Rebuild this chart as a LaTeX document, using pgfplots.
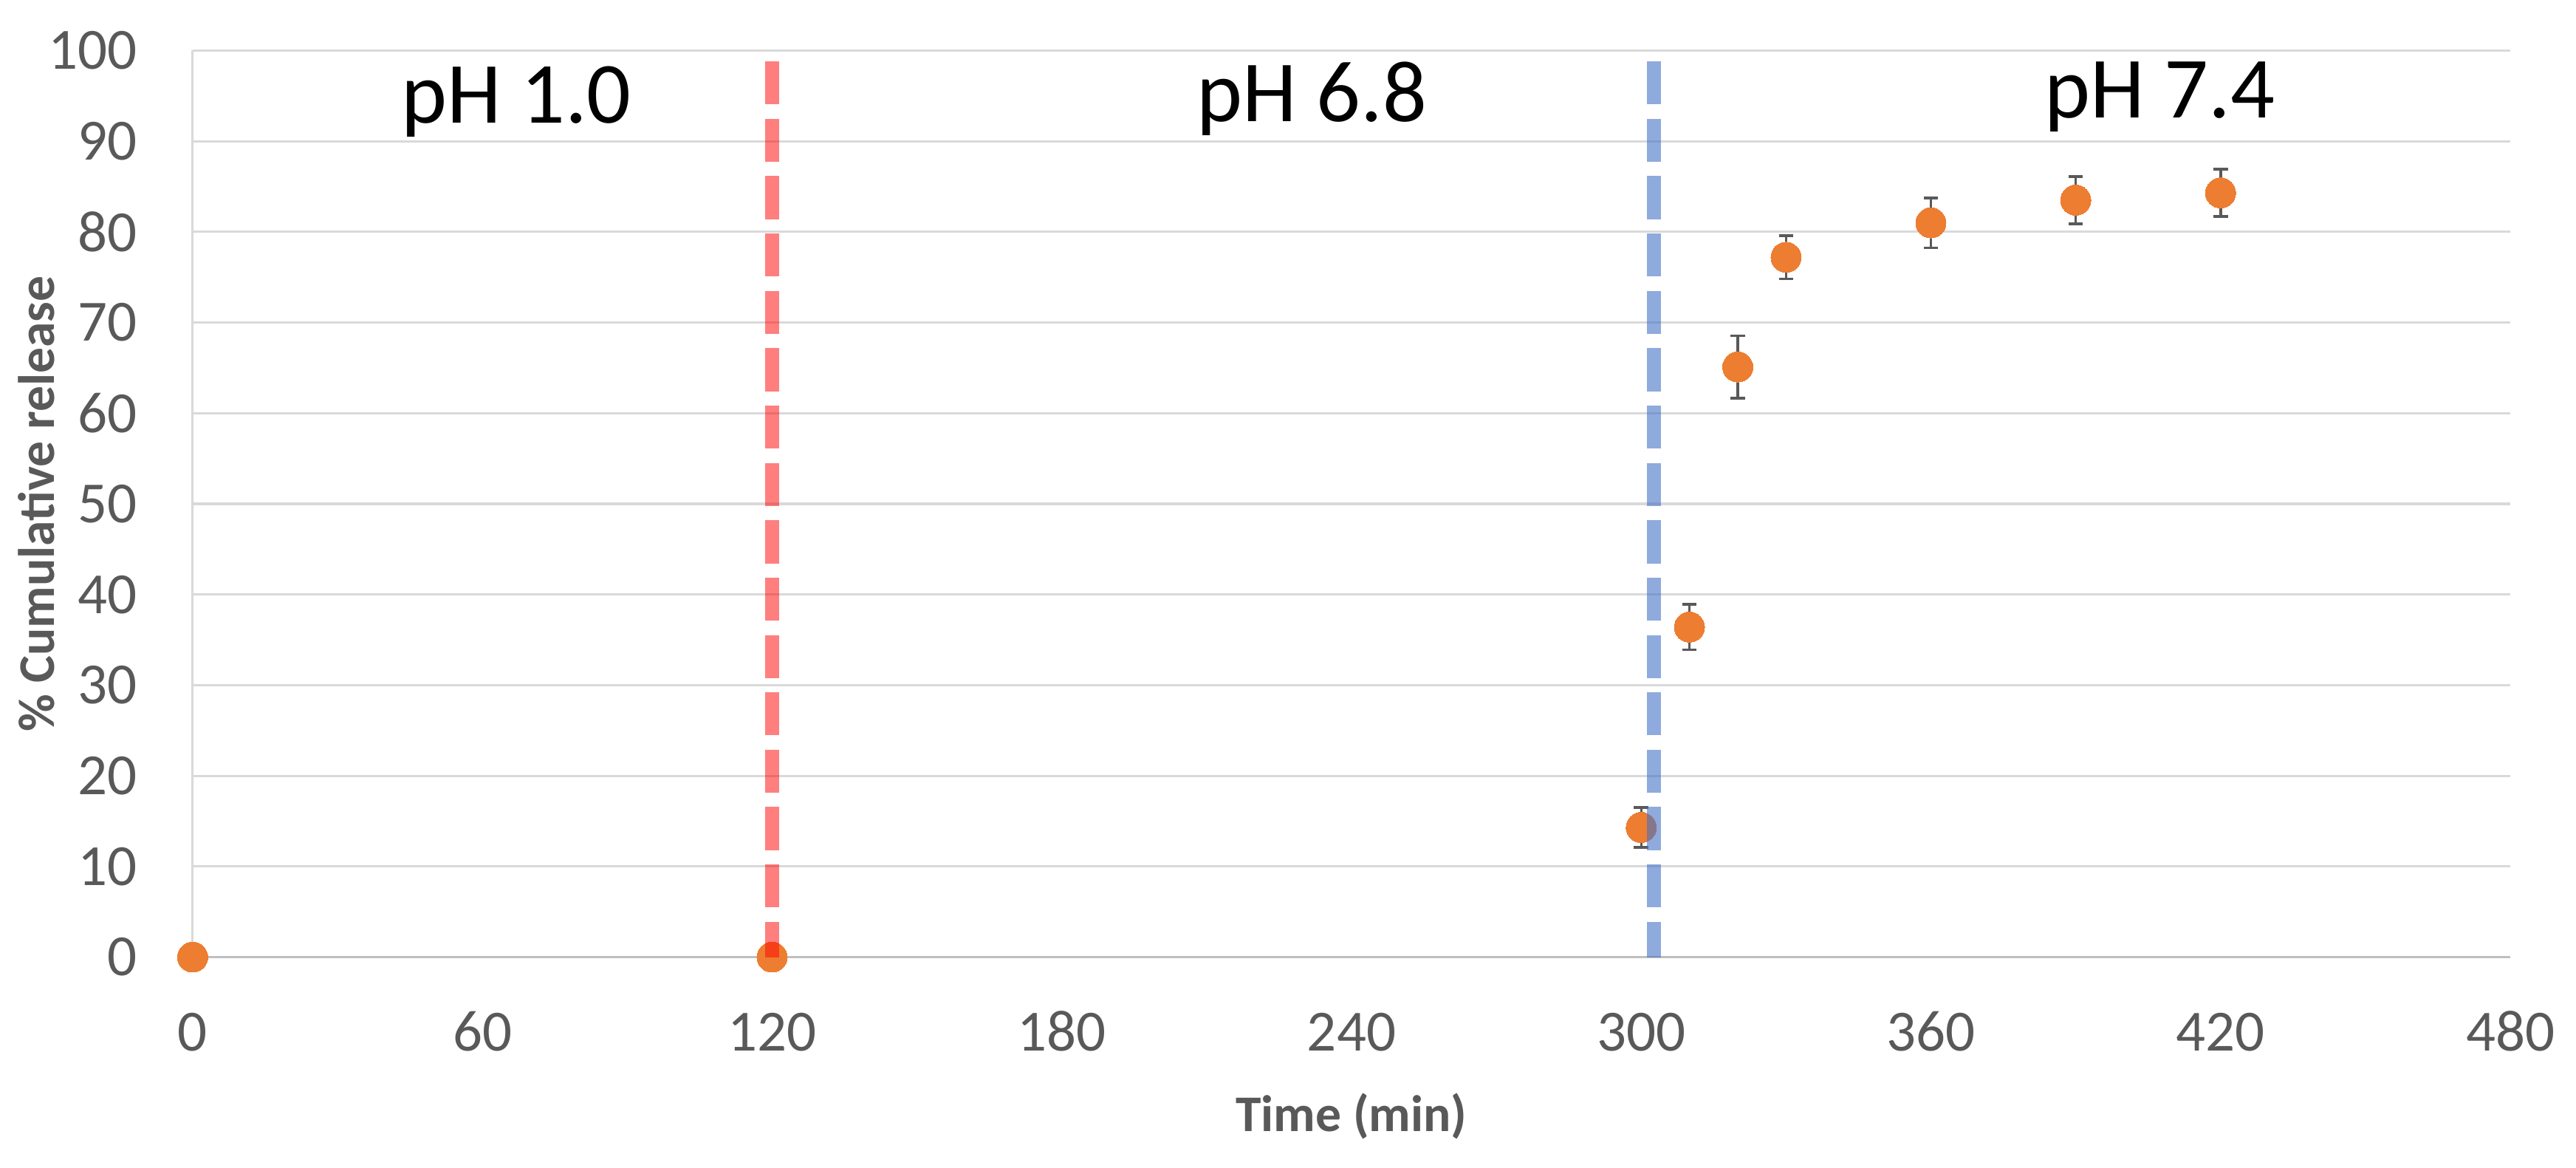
\documentclass[border=0pt]{standalone}
\usepackage{fontspec}
\setmainfont{Carlito}
\usepackage{pgfplots}
\pgfplotsset{compat=1.18}
\definecolor{orangeM}{HTML}{ED7D31}
\definecolor{errgray}{HTML}{595959}
\definecolor{tickgray}{HTML}{595959}
\definecolor{gridgray}{HTML}{D9D9D9}
\definecolor{axgray}{HTML}{BFBFBF}
\definecolor{blueL}{HTML}{4472C4}
\begin{document}
\begin{tikzpicture}
\path[use as bounding box] (-11.73mm,-12.79mm) rectangle (145.07mm,58.24mm);
\begin{axis}[
  at={(0,0)}, anchor=south west,
  scale only axis, width=141.07mm, height=55.16mm,
  xmin=0, xmax=480, ymin=0, ymax=100,
  xtick={0,60,...,480}, ytick={0,10,...,100},
  axis lines=left,
  x axis line style={draw=axgray, line width=0.5pt, -},
  y axis line style={draw=gridgray, line width=0.4pt, -},
  ymajorgrids,
  grid style={draw=gridgray, line width=0.4pt},
  major tick length=0pt,
  tick style={draw=none},
  clip=false,
  /pgf/number format/assume math mode=true,
  tick label style={font=\fontsize{10.1}{12}\selectfont, text=tickgray},
  xticklabel style={anchor=base, inner sep=0pt, yshift=-5.69mm},
  yticklabel style={anchor=east, inner sep=0pt, xshift=-3.3mm},
  xlabel={Time (min)},
  ylabel={\% Cumulative release},
  xlabel style={at={(axis description cs:0.5,-0.1927)}, anchor=base, font=\bfseries\fontsize{8.9}{10}\selectfont, text=tickgray},
  ylabel style={at={(axis description cs:-0.0596,0.5)}, anchor=base, font=\bfseries\fontsize{8.9}{10}\selectfont, text=tickgray},
]
% zero points
\addplot[color=orangeM, only marks, mark=*, mark size=0.92mm, mark options={solid, fill=orangeM, draw=orangeM, line width=0pt}] coordinates {(0,0) (120,0)};
% release with error bars
\addplot[color=orangeM, only marks, mark=*, mark size=0.92mm, mark options={solid, fill=orangeM, draw=orangeM, line width=0pt},
  error bars/.cd, y dir=both, y explicit,
  error bar style={draw=errgray, line width=0.45pt},
  error mark options={rotate=90, mark size=0.44mm, draw=errgray, line width=0.45pt}]
  coordinates {
  (300,14.3) +- (0,2.2)
  (310,36.4) +- (0,2.5)
  (320,65.1) +- (0,3.45)
  (330,77.2) +- (0,2.4)
  (360,81.0) +- (0,2.75)
  (390,83.5) +- (0,2.6)
  (420,84.3) +- (0,2.6)
  };
% phase labels
\node[anchor=base, inner sep=0pt, font=\fontsize{15.1}{18}\selectfont] at (axis cs:67,92.0) {pH 1.0};
\node[anchor=base, inner sep=0pt, font=\fontsize{15.1}{18}\selectfont] at (axis cs:231.8,92.2) {pH 6.8};
\node[anchor=base, inner sep=0pt, font=\fontsize{15.1}{18}\selectfont] at (axis cs:407.4,92.6) {pH 7.4};
\end{axis}
% overlay axis for the phase boundaries, drawn above the markers
\begin{axis}[
  at={(0,0)}, anchor=south west,
  scale only axis, width=141.07mm, height=55.16mm,
  xmin=0, xmax=480, ymin=0, ymax=100,
  hide axis, clip=false,
]
\addplot[draw=red, draw opacity=0.5, line width=0.85mm, line cap=butt, dash pattern=on 2.62mm off 0.87mm] coordinates {(120,98.8) (120,0)};
\addplot[draw=blueL, draw opacity=0.6, line width=0.85mm, line cap=butt, dash pattern=on 2.62mm off 0.87mm] coordinates {(302.7,98.8) (302.7,0)};
\end{axis}
\end{tikzpicture}
\end{document}
